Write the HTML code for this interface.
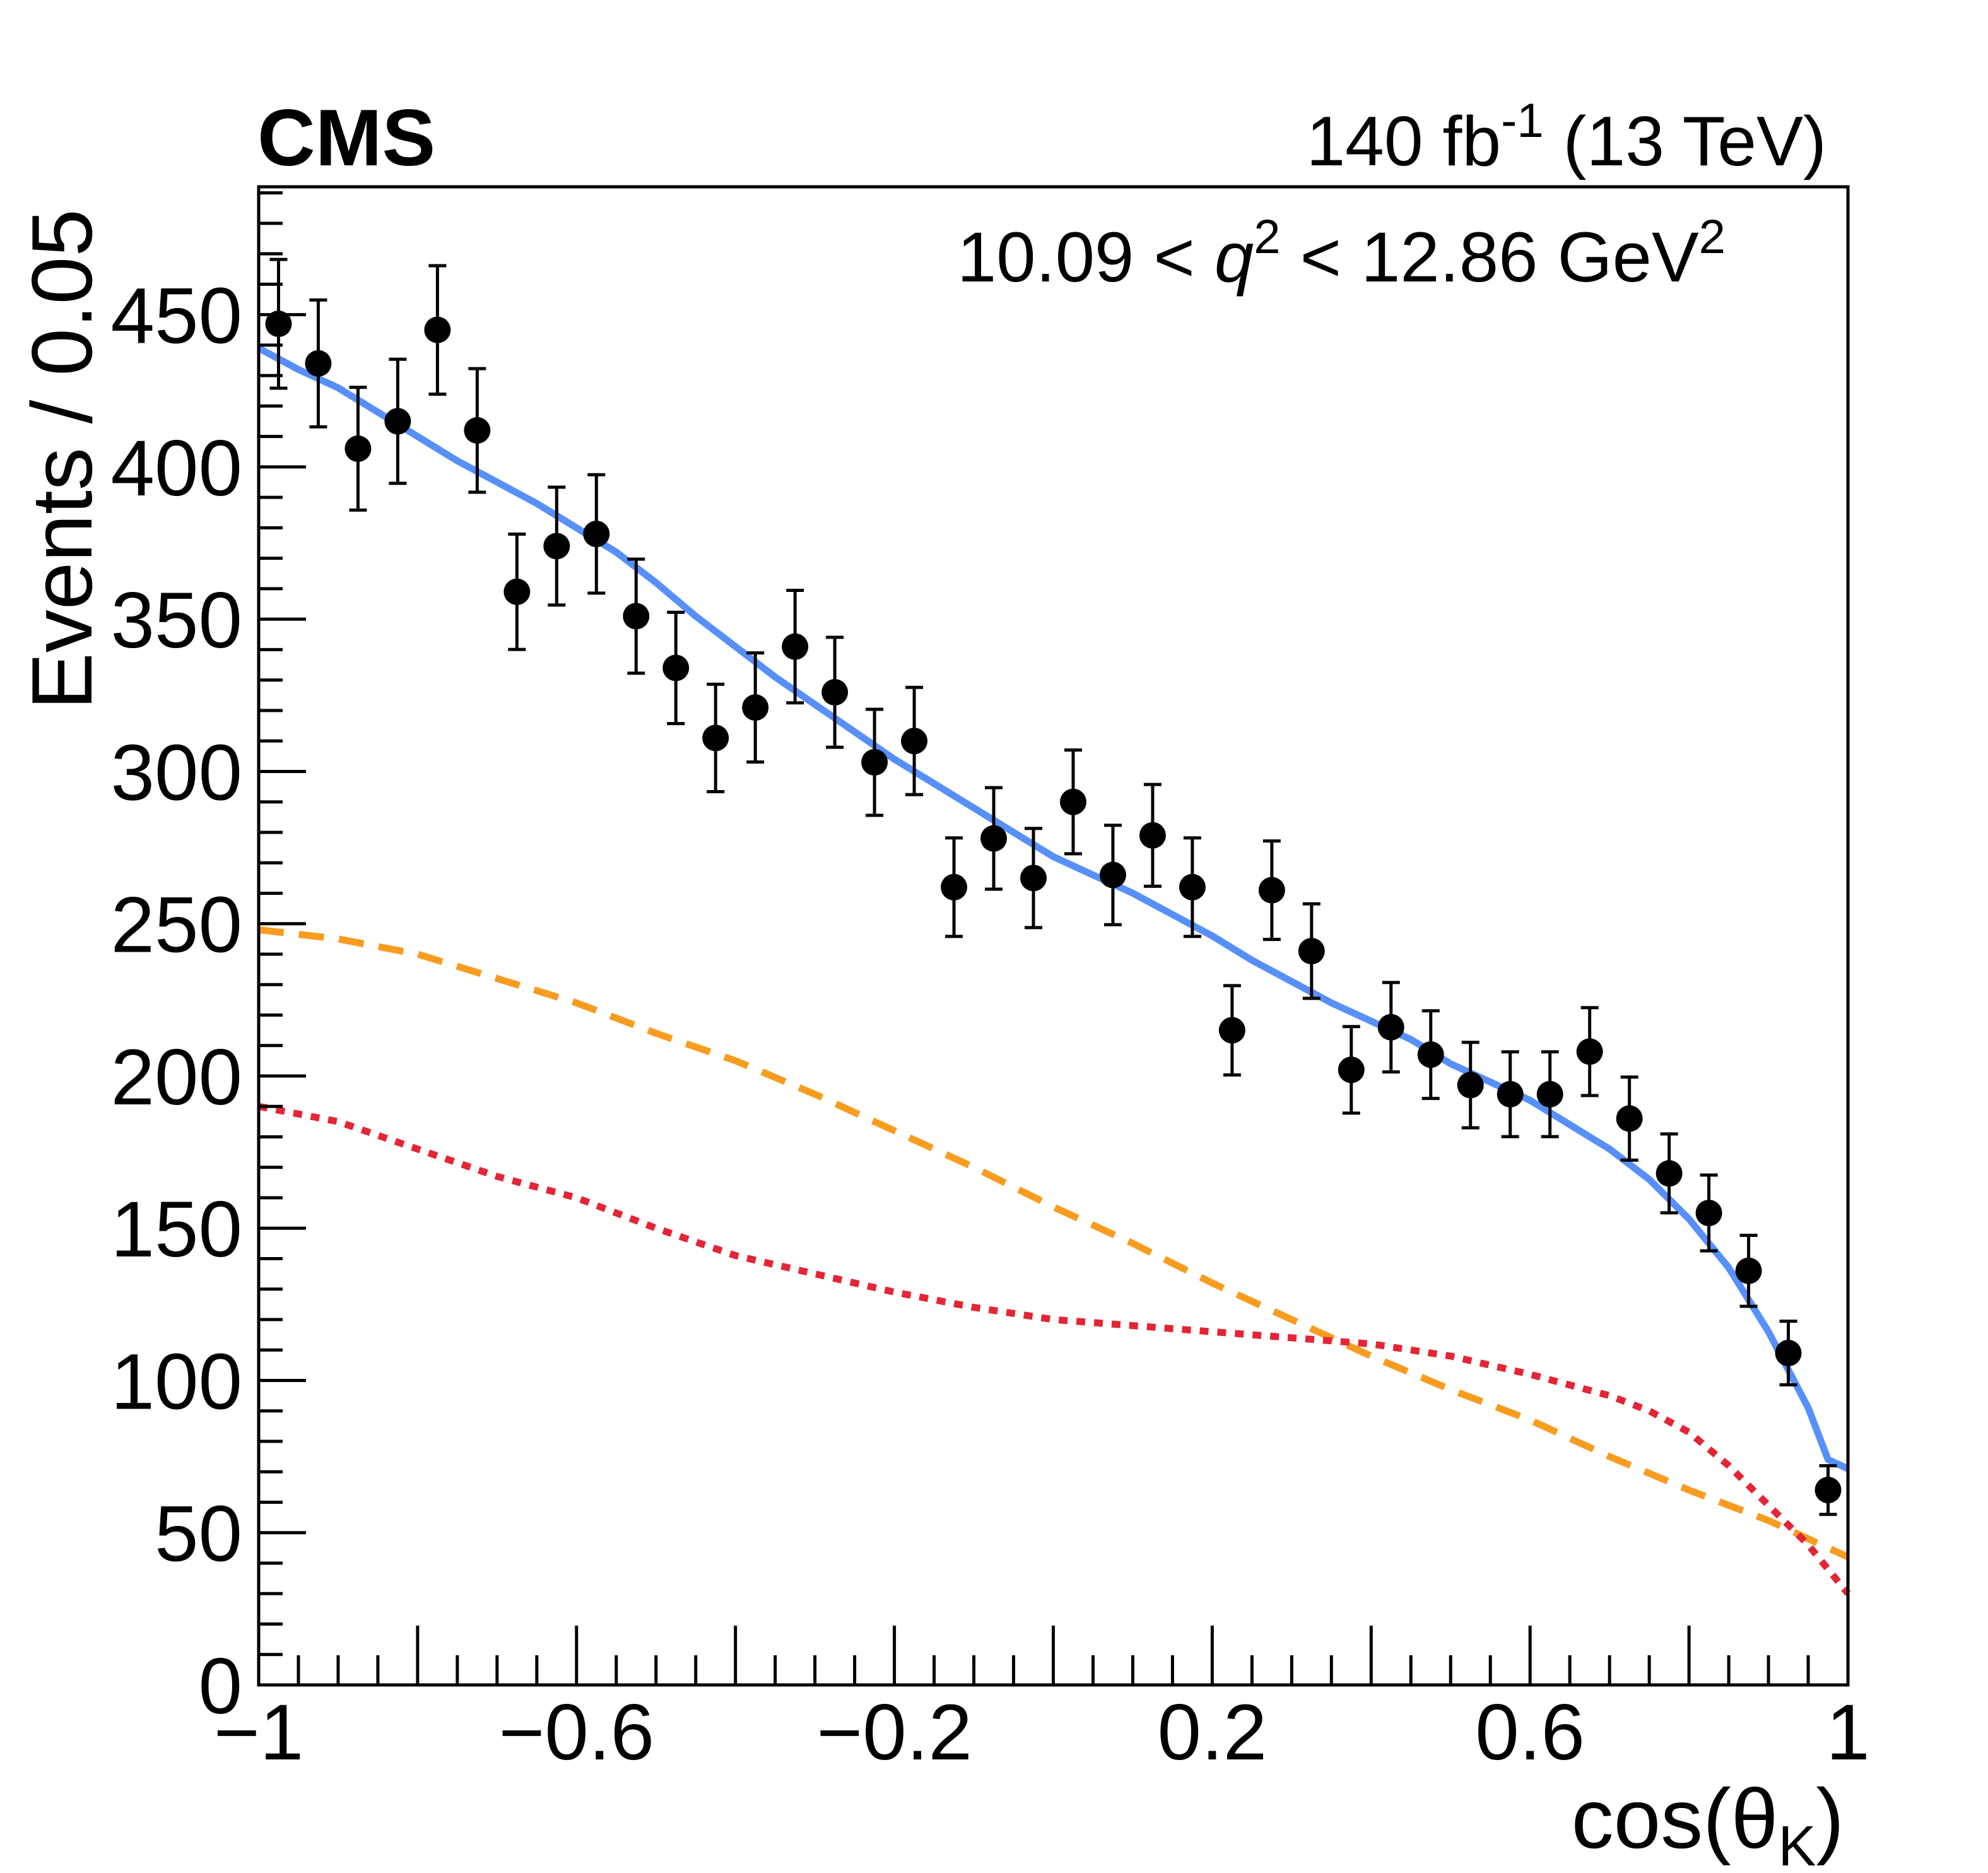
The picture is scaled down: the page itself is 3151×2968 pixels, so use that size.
<!DOCTYPE html>
<html><head><meta charset="utf-8"><style>
html,body{margin:0;padding:0;background:#fff;}
svg{display:block;font-family:"Liberation Sans",sans-serif;}
</style></head><body>
<svg id="chart" width="3151" height="2968" viewBox="0 0 3151 2968" xmlns="http://www.w3.org/2000/svg">
<rect x="0" y="0" width="3151" height="2968" fill="#fff"/>
<g id="curves"></g>
<g id="points"></g>
<g id="axes"></g>
<text x="408" y="262" font-size="127" font-weight="bold">CMS</text>
<text x="2895" y="262" font-size="111" text-anchor="end">140 fb<tspan dy="-45" font-size="76">-1</tspan><tspan dy="45"> (13 TeV)</tspan></text>
<text x="1517" y="446" font-size="112">10.09 &lt; <tspan font-style="italic">q</tspan><tspan dy="-45" font-size="76">2</tspan><tspan dy="45"> &lt; 12.86 GeV</tspan><tspan dy="-45" font-size="76">2</tspan></text>
<text transform="translate(145,728) rotate(-90)" font-size="136" text-anchor="middle">Events / 0.05</text>
<text x="2923" y="2928" font-size="134" text-anchor="end">cos(θ<tspan dy="28" font-size="90">K</tspan><tspan dy="-28">)</tspan></text>
</svg>
<script>
const binCenters = [-0.975,-0.925,-0.875,-0.825,-0.775,-0.725,-0.675,-0.625,-0.575,-0.525,-0.475,-0.425,-0.375,-0.325,-0.275,-0.225,-0.175,-0.125,-0.075,-0.025,0.025,0.075,0.125,0.175,0.225,0.275,0.325,0.375,0.425,0.475,0.525,0.575,0.625,0.675,0.725,0.775,0.825,0.875,0.925,0.975];
const counts = [447,434,406,415,445,412,359,374,378,351,334,311,321,341,326,303,310,262,278,265,290,266,279,262,215,261,241,202,216,207,197,194,194,208,186,168,155,136,109,64];
const totalX = [-1,-0.95,-0.9,-0.85,-0.8,-0.75,-0.7,-0.65,-0.6,-0.55,-0.5,-0.45,-0.4,-0.35,-0.3,-0.25,-0.2,-0.15,-0.1,-0.05,0,0.05,0.1,0.15,0.2,0.25,0.3,0.35,0.4,0.45,0.5,0.55,0.6,0.65,0.7,0.75,0.8,0.85,0.9,0.95,0.975,1];
const totalY = [439,432,426,418,410,402,395,388,380,372,362,351,341,331,322,313,304,296,288,280,272,266,260,253,246,238,231,224,218,212,204,198,192,184,176,166,153,137,116,91,74,71];
const sigX = [-1,-0.9,-0.8,-0.7,-0.6,-0.5,-0.4,-0.3,-0.2,-0.1,0,0.1,0.2,0.3,0.4,0.5,0.6,0.7,0.8,0.9,1];
const sigY = [248,245,240,232,224,214,205,194,182,170,157,145,132,120,108,97,87,75,64,54,42];
const bkgX = [-1,-0.9,-0.8,-0.7,-0.6,-0.5,-0.4,-0.3,-0.2,-0.1,0,0.1,0.2,0.3,0.4,0.5,0.6,0.7,0.75,0.8,0.85,0.9,0.95,1];
const bkgY = [190,185,176,167,160,150,141,135,129,124,120,118,116,114,112,108,102,95,90,83,72,59,46,30];
const yTickLabels = ["0","50","100","150","200","250","300","350","400","450"];
const xTickLabels = ["−1","−0.6","−0.2","0.2","0.6","1"];

const X0=410,X1=2929,Y0=2670,Y1=296,YMAX=492;
const sx=v=>X0+(v+1)/2*(X1-X0);
const sy=v=>Y0-v/YMAX*(Y0-Y1);
const NS='http://www.w3.org/2000/svg';
function mk(tag,attrs,parent){const e=document.createElementNS(NS,tag);for(const k in attrs)e.setAttribute(k,attrs[k]);parent.appendChild(e);return e;}
const gc=document.getElementById('curves'),gp=document.getElementById('points'),ga=document.getElementById('axes');

function curve(xs,ys,color,dash,w,name){
  const d=xs.map((x,i)=>(i?'L':'M')+sx(x).toFixed(1)+','+sy(ys[i]).toFixed(1)).join(' ');
  const p=mk('path',{d:d,fill:'none',stroke:color,'stroke-width':w,'stroke-dasharray':dash,'stroke-linejoin':'round'},gc);
  
  
}
curve(sigX,sigY,'#f89c20','40,24',11,'signal-curve');
curve(bkgX,bkgY,'#e42536','14,14',11,'background-curve');
curve(totalX,totalY,'#5790fc','',11,'total-fit-curve');

binCenters.forEach((c,i)=>{
  const n=counts[i],e=Math.sqrt(n),x=sx(c);
  const g=mk('g',{},gp);
  
  
  mk('line',{x1:x,x2:x,y1:sy(n+e),y2:sy(n-e),stroke:'#000','stroke-width':5},g);
  mk('line',{x1:x-14,x2:x+14,y1:sy(n+e),y2:sy(n+e),stroke:'#000','stroke-width':5},g);
  mk('line',{x1:x-14,x2:x+14,y1:sy(n-e),y2:sy(n-e),stroke:'#000','stroke-width':5},g);
  mk('circle',{cx:x,cy:sy(n),r:21,fill:'#000'},g);
});

const frame=mk('rect',{x:X0,y:Y1,width:X1-X0,height:Y0-Y1,fill:'none',stroke:'#000','stroke-width':5},ga);


for(let v=0;v<=YMAX;v+=10){
  const major=v%50===0,y=sy(v);
  mk('line',{x1:X0,x2:X0+(major?75:38),y1:y,y2:y,stroke:'#000','stroke-width':5},ga);
}
yTickLabels.forEach((t,i)=>{
  const el=mk('text',{x:384,y:sy(i*50)+45,'font-size':125,'text-anchor':'end'},ga);
  el.textContent=t;
  
  
});
for(let k=0;k<=40;k++){
  const v=-1+k*0.05,major=k%4===0,x=sx(v);
  mk('line',{x1:x,x2:x,y1:Y0,y2:Y0-(major?94:47),stroke:'#000','stroke-width':5},ga);
}
xTickLabels.forEach((t,i)=>{
  const el=mk('text',{x:sx(-1+i*0.4),y:2788,'font-size':125,'text-anchor':'middle'},ga);
  el.textContent=t;
  
  
});
</script>
</body></html>
